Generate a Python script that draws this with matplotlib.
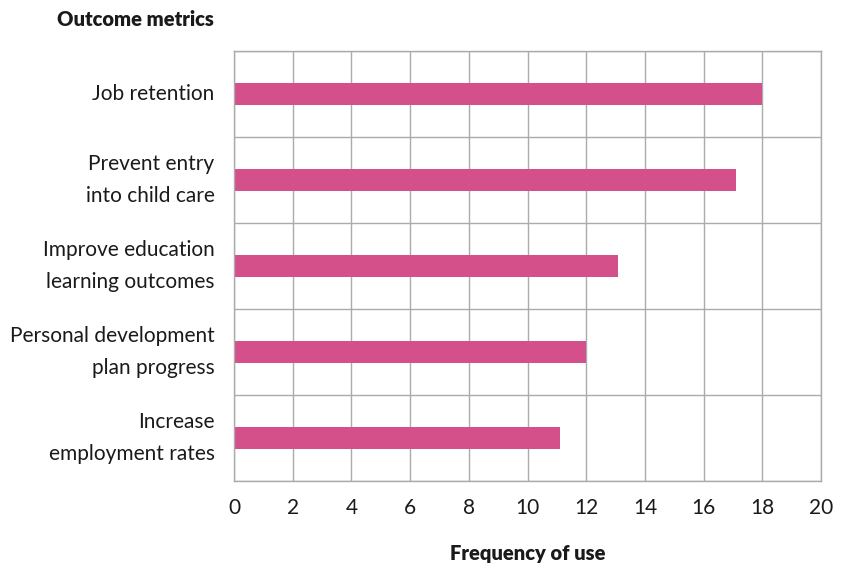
import matplotlib
matplotlib.use("Agg")
import matplotlib.pyplot as plt
import numpy as np

categories = [
    "Job retention",
    "Prevent entry\ninto child care",
    "Improve education\nlearning outcomes",
    "Personal development\nplan progress",
    "Increase\nemployment rates",
]
values = [18, 17.1, 13.1, 12, 11.1]
x_ticks = [0, 2, 4, 6, 8, 10, 12, 14, 16, 18, 20]

plt.rcParams["font.family"] = ["Lato", "DejaVu Sans"]

bar_color = "#d4508a"
grid_color = "#ababab"
text_color = "#1a1a1a"

fig = plt.figure(figsize=(8.49, 5.66), dpi=100)
ax = fig.add_axes([234 / 849, 1 - 481 / 566, (821 - 234) / 849, (481 - 51) / 566])

y = np.arange(len(categories))
ax.barh(y, values, height=0.265, color=bar_color, zorder=2)

ax.set_xlim(0, 20)
ax.set_ylim(len(categories) - 0.5, -0.5)
ax.set_xticks(x_ticks)
ax.set_xticklabels([str(t) for t in x_ticks])
ax.set_yticks(y)
ax.set_yticklabels(categories, linespacing=1.72, va="center")
ax.set_yticks(np.arange(len(categories) + 1) - 0.5, minor=True)

ax.grid(axis="x", which="major", color=grid_color, linewidth=1.0, zorder=1)
ax.grid(axis="y", which="minor", color=grid_color, linewidth=1.0, zorder=1)
ax.set_axisbelow(True)

for side in ["left", "bottom", "top", "right"]:
    ax.spines[side].set_color(grid_color)
    ax.spines[side].set_linewidth(1.0)

ax.tick_params(axis="both", which="both", length=0)
ax.tick_params(axis="x", pad=12, labelsize=15, labelcolor=text_color)
ax.tick_params(axis="y", pad=14, labelsize=15, labelcolor=text_color)

ax.set_xlabel("Frequency of use", fontsize=14.5, fontweight="heavy",
              color=text_color, labelpad=19)
fig.text(214 / 849, 1 - 19 / 566, "Outcome metrics", ha="right", va="center",
         fontsize=14.5, fontweight="heavy", color=text_color)

fig.savefig("out.png", dpi=100)
